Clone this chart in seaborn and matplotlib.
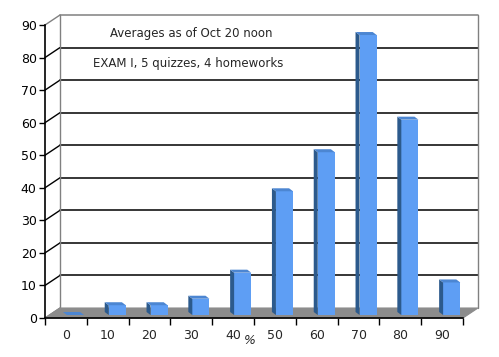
import numpy as np
import matplotlib
matplotlib.use("Agg")
import matplotlib.pyplot as plt
import matplotlib.transforms as mtransforms
from matplotlib.patches import Polygon
import seaborn as sns

# data
scores = ["0", "10", "20", "30", "40", "50", "60", "70", "80", "90"]
counts = [0, 3, 3, 5, 13, 38, 50, 86, 60, 10]
title_lines = ["Averages as of Oct 20 noon", "EXAM I, 5 quizzes, 4 homeworks"]

sns.set_style("white")
plt.rcParams["font.family"] = ["DejaVu Sans"]

W, H = 499, 357
fig = plt.figure(figsize=(W / 100, H / 100), dpi=100)
ax = fig.add_axes([45 / W, (H - 318) / H, 418 / W, 293 / H])
ax.set_facecolor("none")

front = "#5e9ef4"
side = "#2c5a8c"
top = "#4c86d2"

sns.barplot(x=scores, y=counts, color=front, width=0.41, saturation=1,
            ax=ax, zorder=3)
ax.set_xlim(-0.5, 9.5)
ax.set_ylim(0, 90)

# pixel -> data conversion
px_x = 418 / 10
px_y = 293 / 90
wall_dx, wall_dy = 15 / px_x, 10 / px_y   # depth of the back wall
bar_dx, bar_dy = 4 / px_x, 3 / px_y       # depth of each bar (goes up-left)

bar_shift = mtransforms.offset_copy(ax.transData, fig, x=9.6, y=3, units="dots")

# floor
floor = Polygon([(-0.5, 0), (9.5, 0), (9.5 + wall_dx, wall_dy), (-0.5 + wall_dx, wall_dy)],
                closed=True, facecolor="#8c8c8c", edgecolor="#8c8c8c", lw=0.8,
                clip_on=False, zorder=1)
ax.add_patch(floor)

# back wall gridlines and frame
for v in range(0, 100, 10):
    col = "#808080" if v in (0, 90) else "black"
    if v > 0:
        ax.plot([-0.5 + wall_dx, 9.5 + wall_dx], [v + wall_dy, v + wall_dy],
                color=col, lw=1.1, clip_on=False, zorder=0.5)
    ax.plot([-0.5, -0.5 + wall_dx], [v, v + wall_dy], color=col, lw=1.0,
            clip_on=False, zorder=0.5)
ax.plot([-0.5 + wall_dx] * 2, [wall_dy, 90 + wall_dy], color="#808080", lw=1.0,
        clip_on=False, zorder=0.5)
ax.plot([9.5 + wall_dx] * 2, [wall_dy, 90 + wall_dy], color="#808080", lw=1.0,
        clip_on=False, zorder=0.5)

# 3d faces for the bars
for p in ax.patches:
    if not hasattr(p, "get_x") or p is floor:
        continue
    p.set_transform(bar_shift)
    p.set_edgecolor("none")
    x0 = p.get_x()
    w = p.get_width()
    h = p.get_height()
    side_face = Polygon([(x0, 0), (x0, h), (x0 - bar_dx, h + bar_dy), (x0 - bar_dx, bar_dy)],
                        closed=True, facecolor=side, edgecolor="none",
                        transform=bar_shift, clip_on=False, zorder=3)
    top_face = Polygon([(x0, h), (x0 + w, h), (x0 + w - bar_dx, h + bar_dy), (x0 - bar_dx, h + bar_dy)],
                       closed=True, facecolor=top, edgecolor="none",
                       transform=bar_shift, clip_on=False, zorder=3)
    ax.add_patch(side_face)
    ax.add_patch(top_face)

# axes styling
for s in ["top", "right"]:
    ax.spines[s].set_visible(False)
for s in ["left", "bottom"]:
    ax.spines[s].set_color("black")
    ax.spines[s].set_linewidth(1.2)
    ax.spines[s].set_zorder(4)

ax.set_yticks(range(0, 100, 10))
ax.tick_params(axis="y", length=4, width=1, direction="out", pad=2,
               labelsize=9, left=True, colors="black")
ax.set_xticks(range(10))
ax.set_xticklabels(scores)
ax.set_xticks(np.arange(-0.5, 10, 1), minor=True)
ax.tick_params(axis="x", which="major", length=0, pad=8, labelsize=9)
ax.tick_params(axis="x", which="minor", length=5, width=1, direction="out",
               bottom=True, color="black")
ax.set_ylabel("")
ax.set_xlabel("%", fontsize=9, style="italic")
ax.xaxis.set_label_coords((250 - 45) / 418, -(341 - 318) / 293)
ax.xaxis.label.set_va("center")

fig.text(110 / W, 1 - 33 / H, title_lines[0], fontsize=8.5, va="center", ha="left")
fig.text(93 / W, 1 - 63 / H, title_lines[1], fontsize=8.5, va="center", ha="left")

fig.savefig("out.png", dpi=100, facecolor="white")
